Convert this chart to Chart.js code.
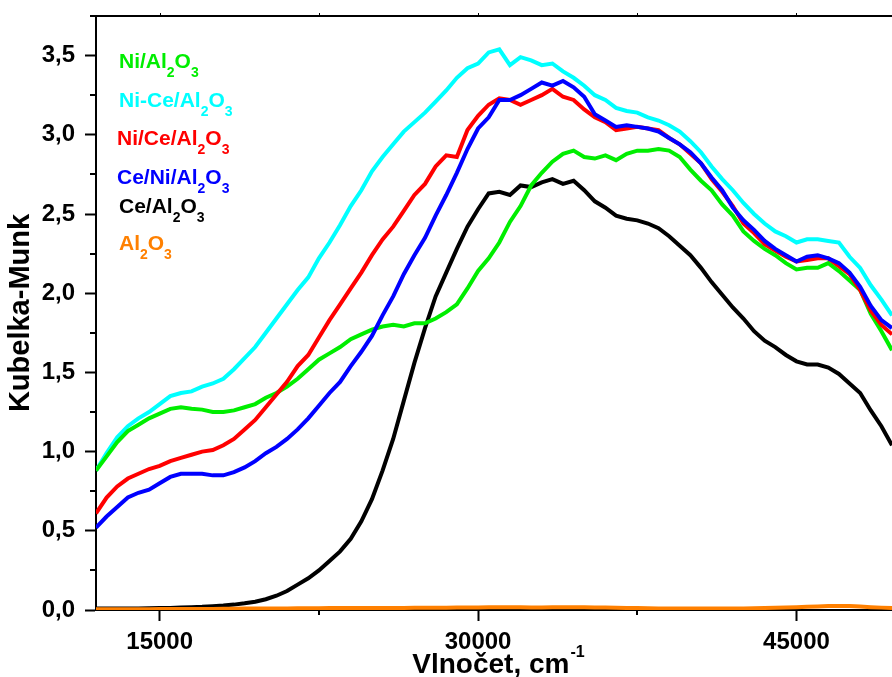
<!DOCTYPE html>
<html>
<head>
<meta charset="utf-8">
<title>Kubelka-Munk spektra</title>
<script src="https://cdn.jsdelivr.net/npm/chart.js@4.4.1/dist/chart.umd.min.js"></script>
<style>
  html, body { margin: 0; padding: 0; background: #fff; overflow: hidden; }
  #wrap { position: relative; width: 892px; height: 677px; }
</style>
</head>
<body>
<div id="wrap"><canvas id="spectra"></canvas></div>
<script>
// wavenumber grid, cm-1
const wavenumbers = [
  12000, 12500, 13000, 13500, 14000, 14500, 15000, 15500, 16000, 16500,
  17000, 17500, 18000, 18500, 19000, 19500, 20000, 20500, 21000, 21500,
  22000, 22500, 23000, 23500, 24000, 24500, 25000, 25500, 26000, 26500,
  27000, 27500, 28000, 28500, 29000, 29500, 30000, 30500, 31000, 31500,
  32000, 32500, 33000, 33500, 34000, 34500, 35000, 35500, 36000, 36500,
  37000, 37500, 38000, 38500, 39000, 39500, 40000, 40500, 41000, 41500,
  42000, 42500, 43000, 43500, 44000, 44500, 45000, 45500, 46000, 46500,
  47000, 47500, 48000, 48500, 49000, 49500
];

const niAl = [
  0.88, 0.97, 1.06, 1.13, 1.17, 1.21, 1.24, 1.27, 1.28, 1.27,
  1.265, 1.25, 1.25, 1.26, 1.28, 1.30, 1.34, 1.37, 1.41, 1.46,
  1.52, 1.58, 1.62, 1.66, 1.71, 1.74, 1.77, 1.79, 1.80, 1.79,
  1.81, 1.81, 1.84, 1.88, 1.93, 2.03, 2.14, 2.22, 2.32, 2.45,
  2.55, 2.68, 2.76, 2.83, 2.88, 2.90, 2.86, 2.85, 2.87, 2.84,
  2.88, 2.90, 2.90, 2.91, 2.90, 2.86, 2.78, 2.71, 2.65, 2.56,
  2.49, 2.39, 2.33, 2.28, 2.24, 2.19, 2.15, 2.16, 2.16, 2.19,
  2.14, 2.08, 2.02, 1.87, 1.76, 1.64
];

const niCeMix = [
  0.88, 0.99, 1.09, 1.16, 1.21, 1.25, 1.30, 1.35, 1.37, 1.38,
  1.41, 1.43, 1.46, 1.52, 1.59, 1.66, 1.75, 1.84, 1.93, 2.02,
  2.10, 2.22, 2.32, 2.43, 2.55, 2.65, 2.77, 2.86, 2.94, 3.02,
  3.08, 3.14, 3.21, 3.28, 3.36, 3.42, 3.45, 3.52, 3.54, 3.44,
  3.49, 3.47, 3.44, 3.45, 3.40, 3.36, 3.31, 3.25, 3.22, 3.17,
  3.15, 3.14, 3.11, 3.09, 3.06, 3.02, 2.96, 2.89, 2.80, 2.72,
  2.65, 2.57, 2.50, 2.44, 2.39, 2.36, 2.32, 2.34, 2.34, 2.33,
  2.32, 2.23, 2.16, 2.05, 1.96, 1.86
];

const niCeAl = [
  0.61, 0.71, 0.78, 0.83, 0.86, 0.89, 0.91, 0.94, 0.96, 0.98,
  1.00, 1.01, 1.04, 1.08, 1.14, 1.20, 1.28, 1.36, 1.44, 1.54,
  1.61, 1.72, 1.83, 1.93, 2.03, 2.13, 2.24, 2.34, 2.42, 2.52,
  2.62, 2.69, 2.80, 2.87, 2.86, 3.03, 3.12, 3.19, 3.23, 3.22,
  3.19, 3.22, 3.25, 3.29, 3.24, 3.22, 3.16, 3.11, 3.08, 3.03,
  3.04, 3.05, 3.04, 3.03, 2.98, 2.94, 2.88, 2.82, 2.72, 2.64,
  2.55, 2.44, 2.38, 2.31, 2.27, 2.23, 2.20, 2.21, 2.22, 2.22,
  2.17, 2.12, 2.02, 1.89, 1.80, 1.74
];

const ceNiAl = [
  0.52, 0.59, 0.65, 0.71, 0.74, 0.76, 0.80, 0.84, 0.86, 0.86,
  0.86, 0.85, 0.85, 0.87, 0.90, 0.94, 0.99, 1.03, 1.08, 1.14,
  1.21, 1.29, 1.37, 1.44, 1.54, 1.63, 1.73, 1.86, 1.98, 2.12,
  2.24, 2.35, 2.49, 2.62, 2.76, 2.91, 3.04, 3.11, 3.22, 3.22,
  3.25, 3.29, 3.33, 3.31, 3.34, 3.30, 3.24, 3.13, 3.09, 3.05,
  3.06, 3.05, 3.04, 3.02, 2.98, 2.94, 2.89, 2.82, 2.73, 2.65,
  2.54, 2.46, 2.40, 2.33, 2.28, 2.24, 2.20, 2.23, 2.24, 2.22,
  2.19, 2.13, 2.04, 1.92, 1.83, 1.78
];

const ceAl = [
  0.010, 0.010, 0.010, 0.010, 0.010, 0.011, 0.012, 0.013, 0.015, 0.018,
  0.020, 0.024, 0.028, 0.034, 0.042, 0.052, 0.068, 0.090, 0.120, 0.160,
  0.200, 0.250, 0.310, 0.370, 0.450, 0.560, 0.700, 0.880, 1.080, 1.320,
  1.560, 1.780, 1.980, 2.130, 2.280, 2.420, 2.530, 2.630, 2.640, 2.620,
  2.680, 2.670, 2.700, 2.720, 2.690, 2.710, 2.650, 2.580, 2.540, 2.490,
  2.470, 2.460, 2.440, 2.410, 2.360, 2.300, 2.240, 2.160, 2.070, 1.990,
  1.910, 1.840, 1.760, 1.700, 1.660, 1.610, 1.570, 1.550, 1.550, 1.530,
  1.490, 1.430, 1.370, 1.260, 1.160, 1.040
];

const al = [
  0.004, 0.004, 0.005, 0.005, 0.005, 0.005, 0.006, 0.006, 0.006, 0.007,
  0.007, 0.007, 0.008, 0.008, 0.009, 0.009, 0.010, 0.010, 0.010, 0.011,
  0.011, 0.011, 0.012, 0.012, 0.012, 0.013, 0.013, 0.013, 0.013, 0.013,
  0.014, 0.014, 0.014, 0.014, 0.015, 0.016, 0.016, 0.017, 0.018, 0.018,
  0.017, 0.016, 0.016, 0.017, 0.018, 0.018, 0.017, 0.016, 0.015, 0.014,
  0.013, 0.012, 0.011, 0.010, 0.010, 0.009, 0.009, 0.009, 0.009, 0.009,
  0.009, 0.010, 0.011, 0.013, 0.014, 0.016, 0.018, 0.020, 0.022, 0.025,
  0.026, 0.025, 0.022, 0.018, 0.015, 0.013
];

// legend order top to bottom; digits are drawn as subscripts
const seriesNames = ['Ni/Al2O3', 'Ni-Ce/Al2O3', 'Ni/Ce/Al2O3', 'Ce/Ni/Al2O3', 'Ce/Al2O3', 'Al2O3'];
const seriesColors = ['#00ee00', '#00ffff', '#ff0000', '#0000ff', '#000000', '#ff8000'];
const seriesValues = [niAl, niCeMix, niCeAl, ceNiAl, ceAl, al];
// higher order is drawn first (further back)
const drawOrder = [3, 4, 2, 1, 5, 0];

const xTickValues = [15000, 22500, 30000, 37500, 45000];
const yTickValues = [0, 0.25, 0.5, 0.75, 1, 1.25, 1.5, 1.75, 2, 2.25, 2.5, 2.75, 3, 3.25, 3.5];

const FONT = '"Liberation Sans", Arial, sans-serif';

const isMajorX = v => v % 15000 === 0;
const isMajorY = v => Math.abs(v * 2 - Math.round(v * 2)) < 1e-6;

function drawChem(ctx, text, x, y, size, subSize, subDrop) {
  for (const ch of text) {
    const sub = /[0-9]/.test(ch);
    ctx.font = 'bold ' + (sub ? subSize : size) + 'px ' + FONT;
    ctx.fillText(ch, x, sub ? y + subDrop : y);
    x += ctx.measureText(ch).width;
  }
}

const annotations = {
  id: 'annotations',
  afterDraw(chart) {
    const ctx = chart.ctx;
    const area = chart.chartArea;
    const xs = chart.scales.x;
    const ys = chart.scales.y;
    ctx.save();

    // top frame line with small ticks
    ctx.strokeStyle = '#000';
    ctx.lineWidth = 2;
    ctx.beginPath();
    ctx.moveTo(area.left - 6, area.top);
    ctx.lineTo(area.right, area.top);
    ctx.stroke();
    ctx.lineWidth = 1;
    xTickValues.forEach(v => {
      const px = Math.round(xs.getPixelForValue(v)) + 0.5;
      ctx.beginPath();
      ctx.moveTo(px, area.top - 3);
      ctx.lineTo(px, area.top + 1);
      ctx.stroke();
    });

    // short minor ticks
    ctx.lineWidth = 2;
    xTickValues.filter(v => !isMajorX(v)).forEach(v => {
      const px = Math.round(xs.getPixelForValue(v));
      ctx.beginPath();
      ctx.moveTo(px, area.bottom);
      ctx.lineTo(px, area.bottom + 5);
      ctx.stroke();
    });
    yTickValues.filter(v => !isMajorY(v)).forEach(v => {
      const py = Math.round(ys.getPixelForValue(v));
      ctx.beginPath();
      ctx.moveTo(area.left, py);
      ctx.lineTo(area.left - 6, py);
      ctx.stroke();
    });

    // legend text
    const legendX = [119, 119, 117, 117, 119, 119];
    const legendY = [68, 107, 145, 184, 213, 250];
    ctx.textAlign = 'left';
    ctx.textBaseline = 'alphabetic';
    seriesNames.forEach((name, i) => {
      ctx.fillStyle = seriesColors[i];
      drawChem(ctx, name, legendX[i], legendY[i], 21, 14, 9);
    });

    // x axis title with superscript
    ctx.fillStyle = '#000';
    ctx.font = 'bold 28px ' + FONT;
    const main = 'Vlnočet, cm';
    const mainW = ctx.measureText(main).width;
    ctx.font = 'bold 16px ' + FONT;
    const supW = ctx.measureText('-1').width;
    const tx = (area.left + area.right) / 2 + 4 - (mainW + supW) / 2;
    const ty = 673;
    ctx.font = 'bold 28px ' + FONT;
    ctx.fillText(main, tx, ty);
    ctx.font = 'bold 16px ' + FONT;
    ctx.fillText('-1', tx + mainW + 1, ty - 16);

    ctx.restore();
  }
};

const datasets = seriesNames.map((name, i) => ({
  label: name,
  data: wavenumbers.map((w, j) => ({ x: w, y: seriesValues[i][j] })),
  borderColor: seriesColors[i],
  backgroundColor: seriesColors[i],
  borderWidth: 4,
  pointRadius: 0,
  fill: false,
  tension: 0,
  order: drawOrder[i]
}));

new Chart(document.getElementById('spectra'), {
  type: 'line',
  data: { datasets: datasets },
  plugins: [annotations],
  options: {
    responsive: true,
    maintainAspectRatio: false,
    animation: false,
    events: [],
    layout: { padding: { top: 16, right: 0, left: 0, bottom: 0 } },
    plugins: {
      legend: { display: false },
      tooltip: { enabled: false },
      title: { display: false }
    },
    scales: {
      x: {
        type: 'linear',
        min: 12000,
        max: 49500,
        afterBuildTicks: axis => { axis.ticks = xTickValues.map(v => ({ value: v })); },
        afterFit: axis => {
          axis.height = 67;
          axis.paddingLeft = 0;
          axis.paddingRight = 0;
        },
        ticks: {
          color: '#000',
          padding: 7,
          maxRotation: 0,
          autoSkip: false,
          font: { family: FONT, size: 24, weight: 'bold' },
          callback: v => (isMajorX(v) ? String(v) : '')
        },
        grid: {
          drawOnChartArea: false,
          drawTicks: true,
          tickLength: 11,
          tickWidth: 2,
          tickColor: c => (c.tick && isMajorX(c.tick.value) ? '#000' : 'rgba(0,0,0,0)')
        },
        border: { display: true, color: '#000', width: 2 }
      },
      y: {
        min: 0,
        max: 3.75,
        afterBuildTicks: axis => { axis.ticks = yTickValues.map(v => ({ value: v })); },
        afterFit: axis => {
          axis.width = 96;
          axis.paddingTop = 0;
          axis.paddingBottom = 0;
        },
        ticks: {
          color: '#000',
          padding: 10,
          autoSkip: false,
          font: { family: FONT, size: 24, weight: 'bold' },
          callback: v => (isMajorY(v) ? v.toFixed(1).replace('.', ',') : '')
        },
        grid: {
          drawOnChartArea: false,
          drawTicks: true,
          tickLength: 11,
          tickWidth: 2,
          tickColor: c => (c.tick && isMajorY(c.tick.value) ? '#000' : 'rgba(0,0,0,0)')
        },
        border: { display: true, color: '#000', width: 2 },
        title: {
          display: true,
          text: 'Kubelka-Munk',
          color: '#000',
          font: { family: FONT, size: 29, weight: 'bold' },
          padding: { top: 4, bottom: 0 }
        }
      }
    }
  }
});
</script>
</body>
</html>
